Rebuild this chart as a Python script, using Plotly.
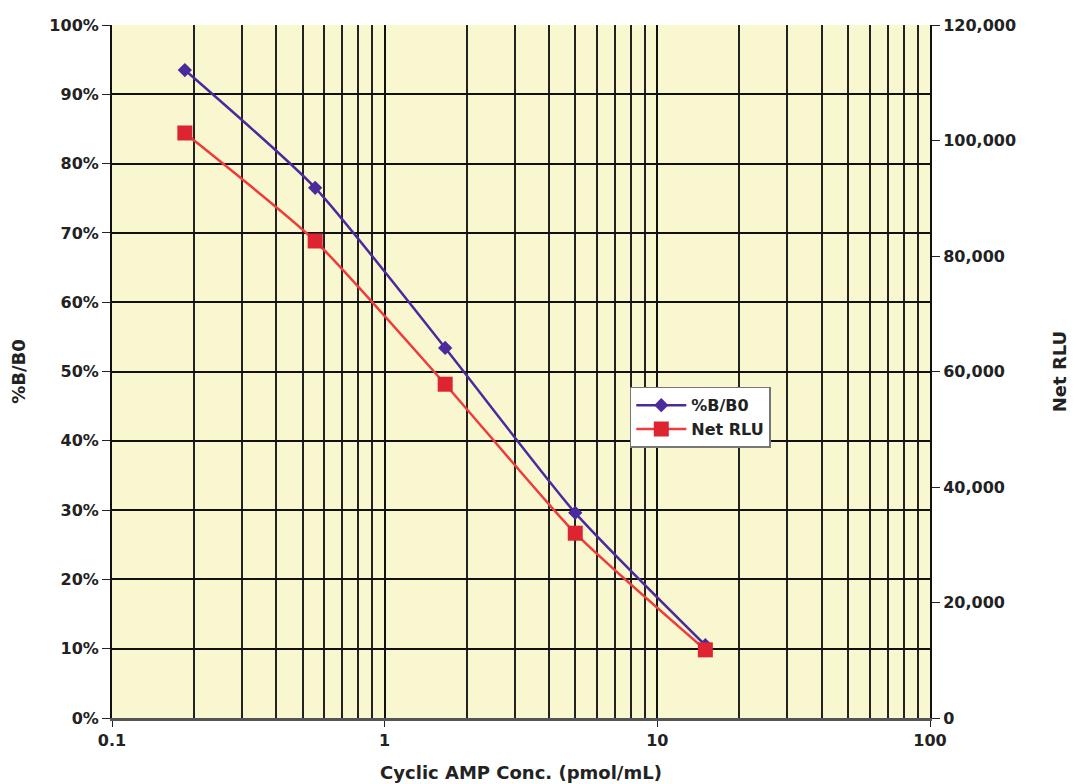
import plotly.graph_objects as go

conc = [0.185, 0.556, 1.667, 5.0, 15.0]
pct_b_b0 = [93.5, 76.5, 53.4, 29.6, 10.5]
net_rlu = [101300, 82600, 57800, 32000, 11800]

font_family = "'DejaVu Sans', 'Open Sans', Arial, sans-serif"
tick_font = dict(family=font_family, size=16, color="#222222", weight="bold")
title_font = dict(family=font_family, size=18, color="#222222", weight="bold")

fig = go.Figure()
fig.add_trace(go.Scatter(
    x=conc, y=pct_b_b0, name="%B/B0", mode="lines+markers",
    line=dict(color="#4B2A9E", width=2.5, shape="spline", smoothing=0.6),
    marker=dict(symbol="diamond", size=11, color="#4B2A9E"),
    yaxis="y"))
fig.add_trace(go.Scatter(
    x=conc, y=net_rlu, name="Net RLU", mode="lines+markers",
    line=dict(color="#EE3B3B", width=2.5, shape="spline", smoothing=0.6),
    marker=dict(symbol="square", size=15, color="#DD2430"),
    yaxis="y2"))

fig.update_layout(
    width=1078, height=784,
    margin=dict(l=104, r=156, t=17, b=74, autoexpand=False),
    paper_bgcolor="white",
    plot_bgcolor="#F9F7D0",
    font=dict(family=font_family, color="#222222"),
    showlegend=True,
    legend=dict(x=0.633, y=0.478, xanchor="left", yanchor="top",
                bgcolor="white", bordercolor="#777777", borderwidth=1.5,
                font=dict(family=font_family, size=16, color="#222222", weight="bold"),
                itemwidth=50, tracegroupgap=0),
    xaxis=dict(
        type="log", range=[-1, 2], automargin=False,
        tickvals=[0.1, 1, 10, 100], ticktext=["0.1", "1", "10", "100"],
        ticks="outside", ticklen=6, tickcolor="#222222",
        tickfont=tick_font,
        showgrid=True, gridcolor="#111111", gridwidth=1.5,
        minor=dict(tickvals=[m * d for d in (0.1, 1, 10) for m in range(2, 10)],
                   showgrid=True, gridcolor="#222222", gridwidth=1.5, ticks=""),
        showline=True, linecolor="#555555", linewidth=3, mirror=False,
        zeroline=False,
        title=dict(text="Cyclic AMP Conc. (pmol/mL)", standoff=18, font=title_font),
    ),
    yaxis=dict(
        range=[0, 100], dtick=10, ticksuffix="%", automargin=False,
        ticks="outside", ticklen=8, tickcolor="#222222",
        tickfont=tick_font,
        showgrid=True, gridcolor="#111111", gridwidth=1.5,
        showline=True, linecolor="#111111", linewidth=2,
        zeroline=False,
        title=dict(text="%B/B0", standoff=20, font=title_font),
    ),
    yaxis2=dict(
        range=[0, 120000], dtick=20000, tickformat=",", automargin=False,
        overlaying="y", side="right",
        ticks="outside", ticklen=8, tickcolor="#222222",
        tickfont=tick_font,
        showgrid=False,
        showline=True, linecolor="#111111", linewidth=2,
        zeroline=False,
        title=dict(text="Net RLU", standoff=38, font=title_font),
    ),
)

fig.write_html("out.html")
